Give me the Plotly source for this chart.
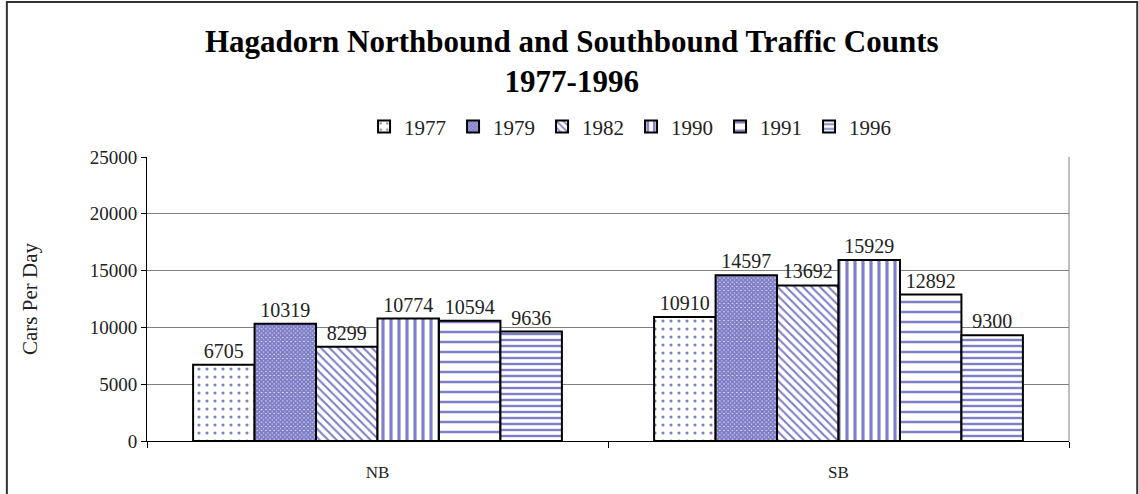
import plotly.graph_objects as go

# traffic counts
directions = ["NB", "SB"]
years = ["1977", "1979", "1982", "1990", "1991", "1996"]
counts_1977 = [6705, 10910]
counts_1979 = [10319, 14597]
counts_1982 = [8299, 13692]
counts_1990 = [10774, 15929]
counts_1991 = [10594, 12892]
counts_1996 = [9636, 9300]

series = [counts_1977, counts_1979, counts_1982, counts_1990, counts_1991, counts_1996]

NAVY = "#000090"
FONT = "Liberation Serif"

# one hatch pattern per year, blue on white like the original
patterns = [
    dict(shape=".", size=8, solidity=0.12),
    dict(shape="x", size=3, solidity=0.9),
    dict(shape="\\", size=6, solidity=0.35),
    dict(shape="|", size=8, solidity=0.4),
    dict(shape="-", size=10, solidity=0.25),
    dict(shape="-", size=6, solidity=0.4),
]

fig = go.Figure()
for year, vals, pat in zip(years, series, patterns):
    fig.add_trace(go.Bar(
        x=directions,
        y=vals,
        name=year,
        text=[str(v) for v in vals],
        textposition="outside",
        textfont=dict(family=FONT, size=20, color="#222222"),
        cliponaxis=False,
        marker=dict(
            color="white",
            line=dict(color="black", width=2),
            pattern=dict(fgcolor=NAVY, bgcolor="white", fillmode="overlay", **pat),
        ),
    ))

fig.update_layout(
    width=1139,
    height=494,
    margin=dict(l=147, r=70, t=157, b=53, autoexpand=False),
    paper_bgcolor="white",
    plot_bgcolor="white",
    barmode="group",
    bargap=0.2,
    bargroupgap=0,
    font=dict(family=FONT, color="#222222"),
    title=dict(
        text="<b>Hagadorn Northbound and Southbound Traffic Counts<br>1977-1996</b>",
        x=0.502, xanchor="center",
        y=0.895, yanchor="middle",
        font=dict(family=FONT, size=31, color="black"),
    ),
    legend=dict(
        orientation="h",
        x=0.525, xanchor="center",
        y=1.106, yanchor="middle",
        font=dict(family=FONT, size=21, color="#222222"),
        entrywidth=44,
        itemwidth=30,
    ),
    showlegend=True,
)

fig.update_yaxes(
    range=[0, 25000],
    dtick=5000,
    tickformat="d",
    automargin=False,
    showgrid=True,
    gridcolor="#808080",
    gridwidth=1,
    showline=True,
    linecolor="black",
    linewidth=1,
    ticks="outside",
    ticklen=5,
    tickcolor="black",
    tickfont=dict(family=FONT, size=19, color="#222222"),
    title=dict(text="Cars Per Day", font=dict(family=FONT, size=21, color="#222222"), standoff=46),
    zeroline=False,
)
fig.update_xaxes(
    automargin=False,
    showline=True,
    linecolor="black",
    linewidth=1,
    ticks="outside",
    tickson="boundaries",
    ticklen=6,
    tickcolor="black",
    ticklabelstandoff=16,
    tickfont=dict(family=FONT, size=17, color="#222222"),
)

# right edge of the plot area and the outer chart frame
fig.add_shape(type="line", xref="paper", yref="paper", x0=1, x1=1, y0=0, y1=1,
              line=dict(color="#808080", width=1))
fig.add_shape(type="rect", xref="paper", yref="paper",
              x0=-0.152, x1=1.074, y0=-0.3, y1=1.546,
              line=dict(color="#333333", width=2), layer="below")

# drop the default page margin so the figure sits at the window origin
fig.write_html("out.html", config={"displayModeBar": False},
               post_script="document.body.style.margin='0';")
